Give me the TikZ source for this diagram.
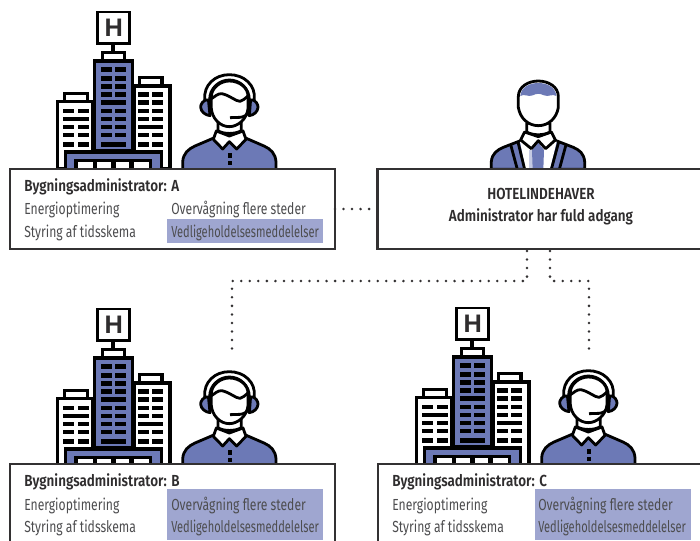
\documentclass[tikz,border=0pt]{standalone}
\usepackage{graphicx}
\usepackage{fontspec}
\setmainfont[FakeStretch=0.76]{Fira Sans}
\newfontfamily\boldcond[FakeStretch=0.84]{Fira Sans SemiBold}
\newfontfamily\hfont{Liberation Sans}
\definecolor{iconblue}{HTML}{6C79B6}
\definecolor{hilite}{HTML}{9FA6D0}
\definecolor{boxline}{HTML}{333132}
\definecolor{txtreg}{HTML}{4D4D4F}
\definecolor{txtbold}{HTML}{2F2D2E}
\newcommand{\vedl}{\scalebox{0.91}[1]{Vedligeholdelsesmeddelelser}}
\tikzset{
  x=0.75pt,y=-0.75pt,
  panel/.style={draw=boxline,line width=2.1pt,fill=white,rectangle,inner sep=0pt,outer sep=0pt,minimum width=243.75pt,anchor=north west},
  txt/.style={inner sep=0pt,anchor=base west,font=\fontsize{12pt}{13pt}\selectfont,text=txtreg},
  txtb/.style={inner sep=0pt,anchor=base west,font=\boldcond\fontsize{12pt}{13pt}\selectfont,text=txtbold},
  txtc/.style={inner sep=0pt,anchor=base,font=\boldcond\fontsize{12pt}{13pt}\selectfont,text=txtbold},
  hl/.style={fill=hilite,draw=none},
  dots/.style={draw=boxline,line width=2.1pt,line cap=round,dash pattern=on 0pt off 6.4pt},
  ic/.style={draw=black,line width=2.4pt,line join=miter},
  icthin/.style={draw=black,line width=2.1pt,line join=round},
}
\newcommand{\winrow}[3]{% x1 x2 y
  \fill[black] (#1,#3-7) rectangle (#2,#3+7);}
\newcommand{\hotelicon}[2]{%
\begin{scope}[shift={(#1,#2)},x=0.25pt,y=-0.25pt]
  % H box, stem
  \draw[icthin,line width=3pt] (220,132)--(220,156);
  \draw[ic,fill=white,line width=2.1pt] (173,36) rectangle (269,130);
  \node[font=\hfont\bfseries\fontsize{19pt}{19pt}\selectfont,text=txtbold,inner sep=0pt] at (221,83) {H};
  % roofs
  \draw[ic,fill=white] (187,157) rectangle (253,182);
  \draw[ic,fill=white] (74,281) rectangle (143,304);
  \draw[ic,fill=white] (298,232) rectangle (366,256);
  % side buildings
  \draw[ic,fill=white] (52,305) rectangle (158,505);
  \draw[ic,fill=white] (282,258) rectangle (390,505);
  % tower
  \draw[ic,fill=iconblue] (163,183) rectangle (278,452);
  % tower windows
  \foreach \yy in {208,235,260,283,333,357,381,405}{
    \winrow{183}{215}{\yy}\winrow{225}{258}{\yy}}
  \winrow{183}{258}{307}\winrow{183}{258}{433}
  % left windows
  \foreach \yy in {333,381,405,433}{\winrow{70}{103}{\yy}\winrow{113}{147}{\yy}}
  \winrow{70}{147}{357}
  % right windows
  \foreach \yy in {283,307,333,357,405,433}{\winrow{295}{328}{\yy}\winrow{337}{370}{\yy}}
  \winrow{295}{370}{381}
  % base
  \draw[ic,fill=iconblue] (76,456) rectangle (364,510);
  \draw[ic,fill=white] (108,482) rectangle (332,510);
  \foreach \xa/\xb in {158/170,212/228,268/282}{\fill[black] (\xa,482) rectangle (\xb,505);}
  % agent
  \draw[icthin,fill=iconblue] (428,510)--(428,485) .. controls (430,460) and (445,447) .. (465,438)--(526,412)--(612,412)--(672,438) .. controls (692,447) and (706,460) .. (708,485)--(708,510)--cycle;
  \fill[black] (563,460) rectangle (577,473);
  \fill[black] (563,482) rectangle (577,495);
  \draw[icthin,fill=white] (529,393)--(520,418)--(548,447)--(568,425)--(590,447)--(618,418)--(609,393)--(568,408)--cycle;
  \draw[icthin,fill=white] (534,365)--(534,392) .. controls (550,403) and (586,403) .. (604,392)--(604,365)--cycle;
  % headphones
  \draw[icthin,fill=iconblue] (505,297) .. controls (488,300) and (481,315) .. (482,322) .. controls (483,335) and (495,345) .. (510,347)--cycle;
  \draw[icthin,fill=iconblue] (632,297) .. controls (648,300) and (655,315) .. (654,322) .. controls (653,335) and (642,345) .. (628,347)--cycle;
  \draw[icthin,fill=white] (494,300) .. controls (490,255) and (525,224) .. (568,224) .. controls (612,224) and (648,255) .. (643,300)--(628,300) .. controls (628,265) and (600,240) .. (568,240) .. controls (538,240) and (508,265) .. (509,300)--cycle;
  \draw[icthin,fill=white] (514,290) .. controls (514,265) and (540,243) .. (568,243) .. controls (600,243) and (625,265) .. (624,290)--(624,325) .. controls (622,355) and (595,380) .. (568,380) .. controls (540,380) and (516,355) .. (514,325)--cycle;
  \draw[icthin] (514,296) .. controls (525,290) and (533,280) .. (545,281) .. controls (565,284) and (590,305) .. (600,304) .. controls (608,303) and (615,295) .. (624,288);
  \draw[icthin,line cap=butt] (570,353)--(600,352) .. controls (612,351) and (622,345) .. (626,335);
\end{scope}}
\begin{document}
\begin{tikzpicture}
\useasboundingbox (0,0) rectangle (700,540);
\clip (0,0) rectangle (700,540);
\hotelicon{40}{0}
\hotelicon{40}{297}
\hotelicon{399}{296}
% owner icon
\begin{scope}[shift={(360,70)},x=0.25pt,y=-0.25pt]
  \draw[icthin,fill=iconblue] (394,298)--(394,275) .. controls (396,250) and (412,240) .. (430,232)--(492,208)--(578,208)--(640,232) .. controls (658,240) and (672,250) .. (674,275)--(674,298)--cycle;
  \fill[white] (480,215)--(590,215)--(570,298)--(497,298)--cycle;
  \fill[hilite!60!white] (508,240)--(518,240)--(518,298)--(508,298)--cycle;
  \draw[icthin] (452,224)--(472,298);
  \draw[icthin] (474,216)--(494,298);
  \draw[icthin] (618,224)--(598,298);
  \draw[icthin] (596,216)--(574,298);
  \fill[iconblue] (535,218)--(552,240)--(550,298)--(518,298)--(516,240)--cycle;
  \draw[icthin,fill=white] (494,186)--(482,210)--(514,236)--(535,212)--(557,236)--(586,210)--(574,186)--(535,200)--cycle;
  \draw[icthin,fill=white] (500,160)--(500,186) .. controls (520,197) and (550,197) .. (570,186)--(570,160)--cycle;
  \draw[icthin,fill=white] (475,80) .. controls (475,50) and (505,33) .. (535,33) .. controls (565,33) and (595,50) .. (595,80)--(595,112) .. controls (590,145) and (565,167) .. (535,167) .. controls (505,167) and (480,145) .. (475,112)--cycle;
  \fill[iconblue] (481,78) .. controls (483,52) and (508,39) .. (535,39) .. controls (562,39) and (587,52) .. (589,78) .. controls (578,70) and (565,82) .. (552,76) .. controls (540,70) and (530,70) .. (518,76) .. controls (505,82) and (492,70) .. (481,78)--cycle;
\end{scope}
\node[panel,minimum height=60pt] (boxA) at (10,169) {};
\node[panel,minimum height=60pt,minimum width=246pt] (boxO) at (377.5,169) {};
\node[panel,minimum height=60pt] (boxB) at (10,464) {};
\node[panel,minimum height=60pt,minimum width=246pt] (boxC) at (378,464) {};
\fill[hl] (167,219) rectangle (323,243);
\fill[hl] (167,489) rectangle (323,540);
\fill[hl] (535,489) rectangle (691,540);
% texts A
\node[txtb] (ta) at (24,191) {Bygningsadministrator: A};
\node[txt] (a1) at (24,214) {Energioptimering};
\node[txt] (a2) at (24,237) {Styring af tidsskema};
\node[txt] (a3) at (171,214) {Overvågning flere steder};
\node[txt] (a4) at (171,237) {\vedl};
% texts owner
\node[txtc] (o1) at (541,199) {HOTELINDEHAVER};
\node[txtc] (o2) at (541,221) {Administrator har fuld adgang};
% texts B
\node[txtb] (tb) at (24,486) {Bygningsadministrator: B};
\node[txt] (b1) at (24,510) {Energioptimering};
\node[txt] (b2) at (24,532) {Styring af tidsskema};
\node[txt] (b3) at (171,510) {Overvågning flere steder};
\node[txt] (b4) at (171,532) {\vedl};
% texts C
\node[txtb] (tc) at (392,486) {Bygningsadministrator: C};
\node[txt] (c1) at (392,510) {Energioptimering};
\node[txt] (c2) at (392,532) {Styring af tidsskema};
\node[txt] (c3) at (538,510) {Overvågning flere steder};
\node[txt] (c4) at (538,532) {\vedl};
% connectors
\coordinate (oL) at (527,251);
\coordinate (oR) at (550,251);
\coordinate (kL) at (527,281);
\coordinate (kR) at (550,281);
\coordinate (tB) at (232,281);
\coordinate (tC) at (589,281);
\coordinate (eB) at (232,356);
\coordinate (eC) at (589,355);
\draw[dots] (boxA.east)--(boxO.west);
\draw[dots] (oL)--(kL)--(tB)--(eB);
\draw[dots] (oR)--(kR)--(tC)--(eC);
\end{tikzpicture}
\end{document}
